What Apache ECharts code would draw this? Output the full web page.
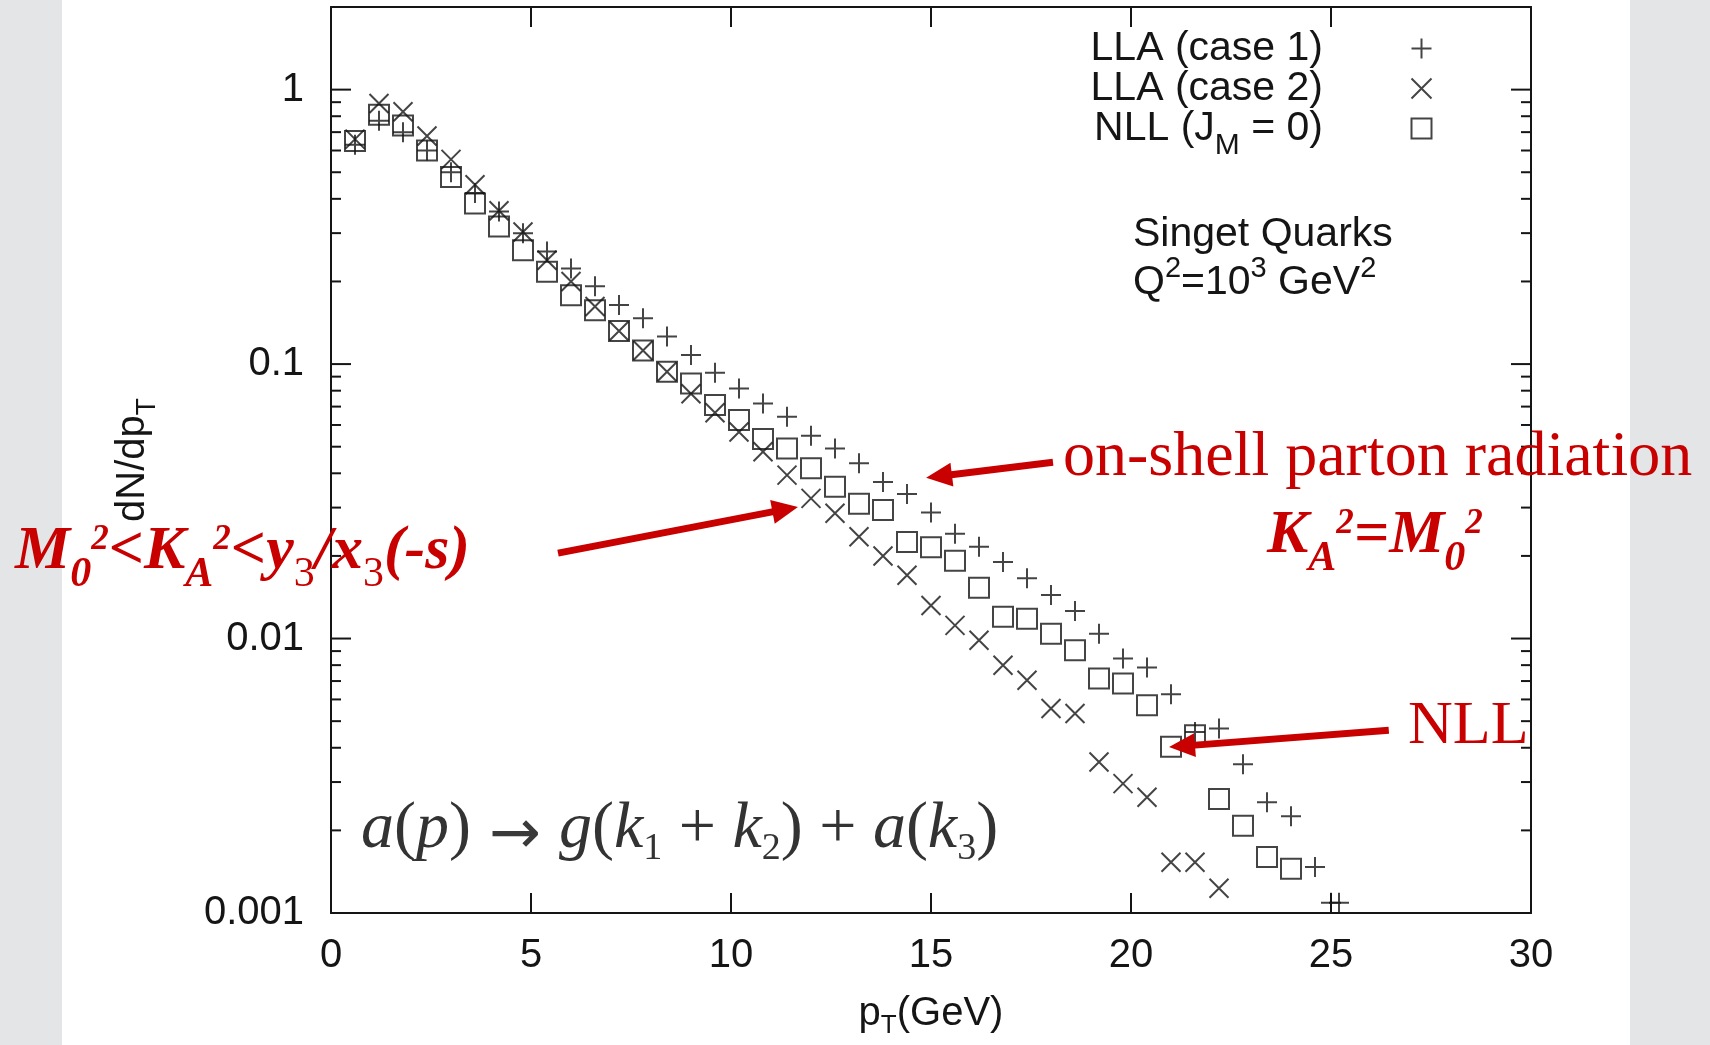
<!DOCTYPE html>
<html>
<head>
<meta charset="utf-8">
<script src="https://cdn.jsdelivr.net/npm/echarts@6.0.0/dist/echarts.min.js"></script>
<style>
html, body { margin: 0; padding: 0; background: #e3e5e7; }
body {
	background-image:
		repeating-linear-gradient(0deg, rgba(255,255,255,0.25) 0 46px, rgba(0,0,0,0.03) 46px 92px),
		repeating-linear-gradient(90deg, rgba(255,255,255,0.2) 0 46px, rgba(0,0,0,0.03) 46px 92px);
}
#paper { position: absolute; left: 62px; top: 0; width: 1568px; height: 1045px; background: #fff; }
#chart { position: absolute; left: 0; top: 0; width: 1710px; height: 1045px; }
</style>
</head>
<body>
<div id="paper"></div>
<div id="chart"></div>
<script>
// pT bins (GeV)
var pT = [0.6, 1.2, 1.8, 2.4, 3.0, 3.6, 4.2, 4.8, 5.4, 6.0, 6.6, 7.2, 7.8, 8.4, 9.0, 9.6, 10.2, 10.8, 11.4, 12.0,
	12.6, 13.2, 13.8, 14.4, 15.0, 15.6, 16.2, 16.8, 17.4, 18.0, 18.6, 19.2, 19.8, 20.4, 21.0, 21.6, 22.2, 22.8,
	23.4, 24.0, 24.6, 25.2];

// dN/dpT, LLA (case 1)
var lla1 = [0.63, 0.77, 0.70, 0.60, 0.50, 0.42, 0.36, 0.30, 0.257, 0.223, 0.192, 0.164, 0.147, 0.126, 0.108,
	0.093, 0.0815, 0.0719, 0.0643, 0.0548, 0.0493, 0.0435, 0.0372, 0.0336, 0.0288, 0.0241, 0.0216, 0.0190,
	0.0166, 0.0144, 0.0126, 0.0104, 0.00846, 0.00785, 0.00626, 0.00457, 0.0047, 0.00348, 0.00253, 0.00225,
	0.00147, 0.00109];
var lla1ExtraX = [25.0];
var lla1ExtraY = [0.00109];

// dN/dpT, LLA (case 2)
var lla2 = [0.66, 0.89, 0.83, 0.678, 0.557, 0.45, 0.362, 0.303, 0.239, 0.20, 0.162, 0.132, 0.112, 0.0938, 0.078,
	0.0665, 0.0566, 0.0479, 0.0394, 0.0324, 0.0286, 0.0235, 0.0200, 0.0170, 0.0132, 0.01117, 0.00986, 0.00799,
	0.00705, 0.00556, 0.00533, 0.00355, 0.00296, 0.00264, 0.00153, 0.00153, 0.00123];

// dN/dpT, NLL (JM = 0)
var nll = [0.65, 0.81, 0.74, 0.60, 0.48, 0.385, 0.317, 0.26, 0.217, 0.178, 0.157, 0.132, 0.112, 0.0938, 0.085,
	0.0709, 0.0626, 0.0533, 0.0493, 0.0417, 0.0357, 0.031, 0.0294, 0.0225, 0.0215, 0.0192, 0.0153, 0.012,
	0.0118, 0.0104, 0.00906, 0.00715, 0.00686, 0.00571, 0.00403, 0.00444, 0.0026, 0.00208, 0.0016, 0.00145];

var seriesNames = ['LLA (case 1)', 'LLA (case 2)', 'NLL (JM = 0)'];
var xTicks = [0, 5, 10, 15, 20, 25, 30];
var yTickLabels = ['0.001', '0.01', '0.1', '1'];
var yMajorTicks = [0.001, 0.01, 0.1, 1];
var yMinorTicks = [0.002, 0.003, 0.004, 0.005, 0.006, 0.007, 0.008, 0.009,
	0.02, 0.03, 0.04, 0.05, 0.06, 0.07, 0.08, 0.09,
	0.2, 0.3, 0.4, 0.5, 0.6, 0.7, 0.8, 0.9];

// annotation arrows: [tail, head] in (pT, dN/dpT)
var arrowSegments = [
	[[18.05, 0.0439], [15.2, 0.03905]],
	[[5.675, 0.02047], [11.355, 0.02954]],
	[[26.445, 0.00463], [21.275, 0.004055]]
];

var ink = '#151515';
var red = '#c80000';
var sans = 'Liberation Sans, Arial, sans-serif';
var serif = 'Liberation Serif, Times New Roman, serif';

var plusPath = 'path://M0,10 L20,10 M10,0 L10,20';
var crossPath = 'path://M0,0 L20,20 M20,0 L0,20';
var boxPath = 'path://M0,0 L20,0 L20,20 L0,20 Z';

function pairs(xs, ys) {
	return ys.map(function (y, i) { return [xs[i], y]; });
}

// rich token shifted up (u > 0) or down (u < 0) about the line middle
function shifted(base, u) {
	var s = Object.assign({ verticalAlign: 'middle', lineHeight: base.fontSize }, base);
	s.padding = u > 0 ? [0, 0, 2 * u, 0] : [-2 * u, 0, 0, 0];
	return s;
}

var chart = echarts.init(document.getElementById('chart'));

var markerStyle = { color: 'rgba(0,0,0,0)', borderColor: ink, borderWidth: 2 };

var tickData = yMajorTicks.map(function (v) { return [0, v, 20]; })
	.concat(yMinorTicks.map(function (v) { return [0, v, 10]; }));

var redBI = { fontFamily: serif, fontWeight: 'bold', fontStyle: 'italic', fill: red };
function rs(extra) { return Object.assign({}, redBI, extra); }
var redRich = {
	m: rs({ fontSize: 62, lineHeight: 62, verticalAlign: 'middle' }),
	sb: shifted(rs({ fontSize: 42 }), -23),
	sp: shifted(rs({ fontSize: 35 }), 12.5),
	n3: shifted({ fontFamily: serif, fontSize: 42, fill: red }, -23)
};

var mathRich = {
	i: { fontSize: 66, lineHeight: 66, fontFamily: serif, fontStyle: 'italic', fill: '#333', verticalAlign: 'middle' },
	r: { fontSize: 66, lineHeight: 66, fontFamily: serif, fill: '#333', verticalAlign: 'middle' },
	ar: { fontSize: 62, lineHeight: 62, fontFamily: 'DejaVu Sans', fill: '#3a3a3a', verticalAlign: 'middle', padding: [14, 18, 0, 18] },
	s: shifted({ fontSize: 38, fontFamily: serif, fill: '#333' }, -19.5)
};

var option = {
	animation: false,
	grid: { left: 331, right: 179, top: 7, bottom: 132, containLabel: false, outerBoundsMode: 'none' },
	xAxis: [{
		type: 'value', min: 0, max: 30, interval: 5, position: 'bottom',
		axisLine: { show: true, onZero: false, lineStyle: { color: ink, width: 2 } },
		axisTick: { show: true, inside: true, length: 20, lineStyle: { color: ink, width: 2 } },
		splitLine: { show: false },
		axisLabel: { fontSize: 40, lineHeight: 40, fontFamily: sans, color: ink, margin: 23,
			formatter: function (v) { return xTicks.indexOf(v) >= 0 ? String(v) : ''; } },
		name: '{a|p}{s|T}{a|(GeV)}', nameLocation: 'middle', nameGap: 81,
		nameTextStyle: { fontSize: 40, fontFamily: sans, color: ink,
			rich: { a: { fontSize: 40, lineHeight: 40, fontFamily: sans, color: ink, verticalAlign: 'middle' },
				s: shifted({ fontSize: 26, fontFamily: sans, color: ink }, -11.4) } }
	}, {
		type: 'value', min: 0, max: 30, interval: 5, position: 'top',
		axisLine: { show: true, onZero: false, lineStyle: { color: ink, width: 2 } },
		axisTick: { show: true, inside: true, length: 20, lineStyle: { color: ink, width: 2 } },
		splitLine: { show: false }, axisLabel: { show: false }
	}],
	yAxis: [{
		type: 'log', logBase: 10, min: 0.001, max: 2, position: 'left',
		axisLine: { show: true, onZero: false, lineStyle: { color: ink, width: 2 } },
		axisTick: { show: false }, splitLine: { show: false }, minorTick: { show: false },
		axisLabel: { fontSize: 40, lineHeight: 40, fontFamily: sans, color: ink, margin: 27,
			formatter: function (v) {
				var l = Math.log10(v), e = Math.round(l);
				return Math.abs(l - e) < 1e-6 && e >= -3 && e <= 0 ? yTickLabels[e + 3] : '';
			} },
		name: '{a|dN/dp}{s|T}', nameLocation: 'middle', nameRotate: 90, nameGap: 178,
		nameTextStyle: { fontSize: 40, fontFamily: sans, color: ink,
			rich: { a: { fontSize: 40, lineHeight: 40, fontFamily: sans, color: ink, verticalAlign: 'middle' },
				s: shifted({ fontSize: 28, fontFamily: sans, color: ink }, -14.2) } }
	}, {
		type: 'log', logBase: 10, min: 0.001, max: 2, position: 'right',
		axisLine: { show: true, onZero: false, lineStyle: { color: ink, width: 2 } },
		axisTick: { show: false }, splitLine: { show: false }, axisLabel: { show: false }
	}],
	legend: {
		data: seriesNames, orient: 'vertical', left: 1083, top: 16, padding: 0, itemGap: -25,
		itemWidth: 187, itemHeight: 20, align: 'right', symbolKeepAspect: true, selectedMode: false,
		itemStyle: { color: 'rgba(0,0,0,0)', borderColor: ink, borderWidth: 2 },
		formatter: function (name) {
			if (name === seriesNames[2]) return '{t|NLL (J}{s|M}{t| = 0)}';
			return '{t|' + name + '}';
		},
		textStyle: { width: 240, fontSize: 41, fontFamily: sans, color: ink, lineHeight: 65,
			rich: { t: { fontSize: 41, fontFamily: sans, color: ink, lineHeight: 65, verticalAlign: 'middle' },
				s: shifted({ fontSize: 30, fontFamily: sans, color: ink }, -17) } }
	},
	series: [{
		name: 'yticks', type: 'custom', coordinateSystem: 'cartesian2d', silent: true, z: 1,
		data: tickData, encode: { x: 0, y: 1 },
		renderItem: function (params, api) {
			var v = api.value(1), len = api.value(2);
			var a = api.coord([0, v]), b = api.coord([30, v]);
			var st = { stroke: ink, lineWidth: 2 };
			return { type: 'group', children: [
				{ type: 'line', shape: { x1: a[0], y1: a[1], x2: a[0] + len, y2: a[1] }, style: st },
				{ type: 'line', shape: { x1: b[0] - len, y1: b[1], x2: b[0], y2: b[1] }, style: st }
			] };
		}
	}, {
		name: seriesNames[0], type: 'scatter', symbol: plusPath, symbolSize: 20, silent: true, z: 3,
		itemStyle: markerStyle,
		data: pairs(pT, lla1).concat(pairs(lla1ExtraX, lla1ExtraY))
	}, {
		name: seriesNames[1], type: 'scatter', symbol: crossPath, symbolSize: 19, silent: true, z: 3,
		itemStyle: markerStyle,
		data: pairs(pT, lla2)
	}, {
		name: seriesNames[2], type: 'scatter', symbol: boxPath, symbolSize: 20, silent: true, z: 3,
		itemStyle: markerStyle,
		data: pairs(pT, nll)
	}, {
		name: 'arrows', type: 'scatter', data: [], silent: true, z: 6,
		markLine: {
			silent: true, animation: false, symbol: ['none', 'triangle'], symbolSize: [24, 26],
			lineStyle: { color: red, width: 7, type: 'solid', opacity: 1 },
			itemStyle: { color: red },
			label: { show: false }, emphasis: { disabled: true },
			data: arrowSegments.map(function (s) { return [{ coord: s[0] }, { coord: s[1] }]; })
		}
	}],
	graphic: [
		{ type: 'text', x: 1133, y: 235, z: 10, silent: true,
			style: { text: 'Singet Quarks', fontSize: 41, fontFamily: sans, fill: ink, verticalAlign: 'middle' } },
		{ type: 'text', x: 1133, y: 283, z: 10, silent: true,
			style: { text: '{a|Q}{p|2}{a|=10}{p|3}{a| GeV}{p|2}', verticalAlign: 'middle',
				rich: { a: { fontSize: 41, lineHeight: 41, fontFamily: sans, fill: ink, verticalAlign: 'middle' },
					p: shifted({ fontSize: 29, fontFamily: sans, fill: ink }, 14.5) } } },
		{ type: 'text', x: 1063, y: 458, z: 10, silent: true,
			style: { text: 'on-shell parton radiation', fontSize: 64, fontFamily: serif, fill: red, verticalAlign: 'middle' } },
		{ type: 'text', x: 1267, y: 536, z: 10, silent: true,
			style: { text: '{m|K}{sb|A}{sp|2}{m|=M}{sb|0}{sp|2}', verticalAlign: 'middle', rich: redRich } },
		{ type: 'text', x: 15, y: 552, z: 10, silent: true,
			style: { text: '{m|M}{sb|0}{sp|2}{m|<K}{sb|A}{sp|2}{m|<y}{n3|3}{m|/x}{n3|3}{m|(-s)}', verticalAlign: 'middle', rich: redRich } },
		{ type: 'text', x: 1408, y: 727, z: 10, silent: true,
			style: { text: 'NLL', fontSize: 62, fontFamily: serif, fill: red, verticalAlign: 'middle' } },
		{ type: 'text', x: 361, y: 830, z: 10, silent: true,
			style: { text: '{i|a}{r|(}{i|p}{r|)}{ar|\u2192}{i|g}{r|(}{i|k}{s|1}{r| + }{i|k}{s|2}{r|) + }{i|a}{r|(}{i|k}{s|3}{r|)}',
				verticalAlign: 'middle', rich: mathRich } }
	]
};

chart.setOption(option);
</script>
</body>
</html>
